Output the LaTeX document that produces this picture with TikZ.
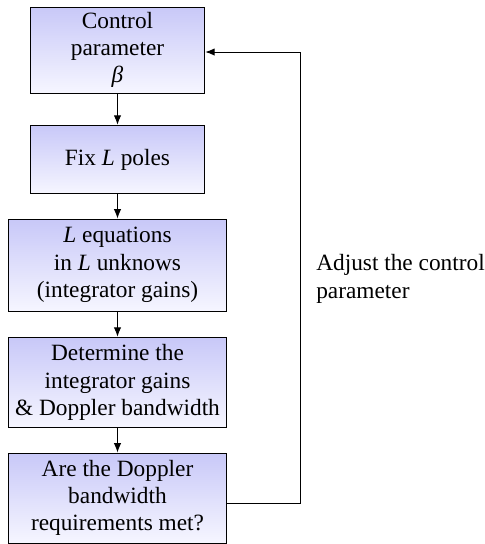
\documentclass[tikz,border=0pt]{standalone}
\usepackage{fontspec}
\setmainfont{Liberation Serif}
\usetikzlibrary{
  positioning,
  arrows.meta,
  calc
}
\definecolor{boxtop}{RGB}{200,200,248}
\definecolor{boxbot}{RGB}{246,246,255}

\begin{document}
\begin{tikzpicture}[
  x=0.75pt, y=-0.75pt,
  stepbox/.style={draw, line width=0.7pt, top color=boxtop, bottom color=boxbot,
              align=center, inner sep=0pt, font=\fontsize{17.5}{20.5}\selectfont},
  narrow/.style={stepbox, minimum width=131pt},
  wide/.style={stepbox, minimum width=164pt},
  flow/.style={-{Latex[length=7pt,width=5.5pt]}, line width=0.7pt}
]
  \useasboundingbox (0,0) rectangle (485,544);

  % Main chain
  \node[narrow, minimum height=64.5pt] (ctrl) at (117.5, 50) {Control\\parameter\\\textit{β}};
  \node[narrow, minimum height=51.5pt] (poles) at (117.5, 159.5) {Fix \textit{L} poles};
  \node[wide, minimum height=69pt] (eqs) at (117.5, 265) {\textit{L} equations\\in \textit{L} unknows\\(integrator gains)};
  \node[wide, minimum height=68pt] (gains) at (117.5, 382.5) {Determine the\\integrator gains\\\& Doppler bandwidth};
  \node[wide, minimum height=67.5pt] (check) at (117.5, 498) {Are the Doppler\\bandwidth\\requirements met?};

  \draw[flow] (ctrl) -- (poles);
  \draw[flow] (poles) -- (eqs);
  \draw[flow] (eqs) -- (gains);
  \draw[flow] (gains) -- (check);

  % Feedback loop
  \coordinate (turnlo) at (300, 503);
  \coordinate (turnhi) at (300, 52);
  \draw[flow] ($(check.east)+(0,5)$) -- (turnlo) -- (turnhi) -- ($(ctrl.east)+(0,2)$);
  \node[anchor=west, align=left, inner sep=0pt, font=\fontsize{17.5}{20.5}\selectfont]
    (adjust) at (316, 279) {Adjust the control\\parameter};
\end{tikzpicture}
\end{document}
